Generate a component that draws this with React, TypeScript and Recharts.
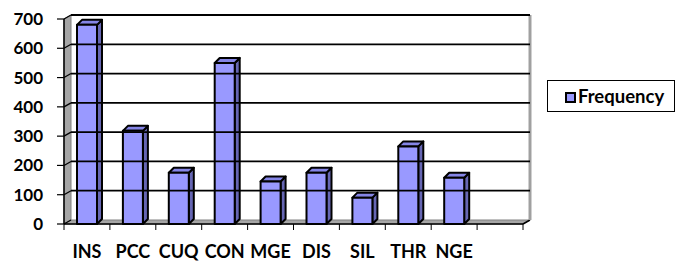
import { BarChart, Bar, XAxis, YAxis, Legend, ReferenceArea, ReferenceLine } from "recharts";

const categories = ["INS", "PCC", "CUQ", "CON", "MGE", "DIS", "SIL", "THR", "NGE", ""];
const frequency = [680, 318, 175, 550, 145, 175, 90, 265, 158, null];
const yTicks = [0, 100, 200, 300, 400, 500, 600, 700];

const data = categories.map((name, i) => ({ name, frequency: frequency[i] }));

// depth of the 3d walls and of the bars
const WALL_DX = 7;
const WALL_DY = -4;
const BAR_DX = 5;
const BAR_DY = -5;

const FONT = "Lato, 'Open Sans', sans-serif";

function Bar3D(props: any) {
  const { x, y, width, height } = props;
  if (!height || height <= 0) return null;
  const front = `M${x},${y} h${width} v${height} h${-width} Z`;
  const top = `M${x},${y} l${BAR_DX},${BAR_DY} h${width} l${-BAR_DX},${-BAR_DY} Z`;
  const side = `M${x + width},${y} l${BAR_DX},${BAR_DY} v${height} l${-BAR_DX},${-BAR_DY} Z`;
  const stroke = { stroke: "#000", strokeWidth: 2, strokeLinejoin: "round" as const };
  return (
    <g>
      <path d={side} fill="#6666B3" {...stroke} />
      <path d={top} fill="#8585E6" {...stroke} />
      <path d={front} fill="#9999FF" {...stroke} />
    </g>
  );
}

function Walls(props: any) {
  const { x, y, width, height } = props;
  const bottom = y + height;
  const right = x + width;
  const step = width / categories.length;
  return (
    <g>
      <rect x={x + WALL_DX} y={y + WALL_DY} width={width} height={height} fill="#fff" />
      <polygon
        points={`${x},${bottom} ${x},${y} ${x + WALL_DX},${y + WALL_DY} ${x + WALL_DX},${bottom + WALL_DY}`}
        fill="#A6A6A6"
        stroke="#808080"
        strokeWidth={1}
      />
      <polygon
        points={`${x},${bottom} ${right},${bottom} ${right + WALL_DX},${bottom + WALL_DY} ${x + WALL_DX},${bottom + WALL_DY}`}
        fill="#A6A6A6"
        stroke="#808080"
        strokeWidth={1}
      />
      <line x1={right} y1={bottom} x2={right + WALL_DX} y2={bottom + WALL_DY} stroke="#000" strokeWidth={1.5} />
      <line
        x1={right + WALL_DX}
        y1={y + WALL_DY}
        x2={right + WALL_DX}
        y2={bottom + WALL_DY}
        stroke="#A0A0A0"
        strokeWidth={3}
      />
      {categories.map((_, i) => (
        <line key={i} x1={x + i * step} y1={bottom} x2={x + i * step} y2={bottom + 6} stroke="#000" strokeWidth={1} />
      ))}
      <line x1={right} y1={bottom} x2={right} y2={bottom + 6} stroke="#000" strokeWidth={1} />
    </g>
  );
}

// gridline drawn on the back wall plus its diagonal across the side wall
function WallGridLine(p: any) {
  const { x1, y1, x2, y2, isFloor } = p;
  if (x1 === undefined || y1 === undefined) return null;
  return (
    <g>
      <line x1={x1} y1={y1} x2={x1 + WALL_DX} y2={y1 + WALL_DY} stroke="#000" strokeWidth={1.2} />
      {!isFloor && (
        <line
          x1={x1 + WALL_DX}
          y1={y1 + WALL_DY}
          x2={x2 + WALL_DX}
          y2={y2 + WALL_DY}
          stroke="#000"
          strokeWidth={1.8}
        />
      )}
    </g>
  );
}

function CategoryTick({ x, y, payload }: any) {
  return (
    <text x={x} y={y + 34} textAnchor="middle" fontFamily={FONT} fontWeight={700} fontSize={18} fill="#000">
      {payload.value}
    </text>
  );
}

function LegendBox() {
  return (
    <div
      style={{
        position: "absolute",
        left: 0,
        top: 0,
        boxSizing: "border-box",
        width: 128,
        height: 32,
        border: "1px solid #000",
        display: "flex",
        alignItems: "center",
        paddingLeft: 17,
        fontFamily: FONT,
        fontWeight: 700,
        fontSize: 18.5,
        color: "#000",
        background: "#fff",
        whiteSpace: "nowrap",
      }}
    >
      <span
        style={{
          boxSizing: "border-box",
          display: "inline-block",
          flex: "none",
          width: 11,
          height: 11,
          border: "2px solid #000",
          background: "#9999FF",
          marginRight: 2,
          marginTop: 2,
        }}
      />
      Frequency
    </div>
  );
}

export default function App() {
  return (
    <div style={{ position: "absolute", left: 0, top: 0, width: 681, height: 262, background: "#fff" }}>
      <BarChart width={681} height={262} data={data} margin={{ top: 19, right: 158, bottom: 0, left: 0 }}>
        <ReferenceArea y1={0} y2={700} shape={<Walls />} ifOverflow="visible" />
        {yTicks.map((t) => (
          <ReferenceLine
            key={t}
            y={t}
            ifOverflow="visible"
            shape={(p: any) => <WallGridLine {...p} isFloor={t === 0} />}
          />
        ))}
        <XAxis
          dataKey="name"
          interval={0}
          height={38}
          tickLine={false}
          tickSize={0}
          tickMargin={0}
          axisLine={{ stroke: "#000", strokeWidth: 1.5 }}
          tick={<CategoryTick />}
        />
        <YAxis
          width={64}
          domain={[0, 700]}
          ticks={yTicks}
          interval={0}
          tickSize={7}
          tickMargin={14}
          tickLine={{ stroke: "#000", strokeWidth: 1.2 }}
          axisLine={{ stroke: "#000", strokeWidth: 1.5 }}
          tick={{ fontFamily: FONT, fontWeight: 700, fontSize: 17, fill: "#000" }}
        />
        <Legend
          content={<LegendBox />}
          wrapperStyle={{ left: 547, top: 80, right: "auto", bottom: "auto", width: 0, height: 0, overflow: "visible" }}
        />
        <Bar dataKey="frequency" barSize={20} fill="#9999FF" shape={<Bar3D />} isAnimationActive={false} />
      </BarChart>
    </div>
  );
}
